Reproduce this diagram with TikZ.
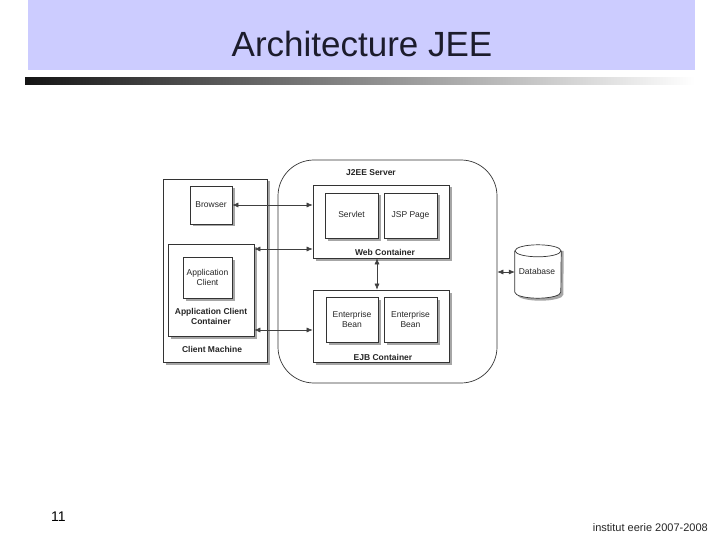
\documentclass[tikz,border=0pt]{standalone}
\usepackage{fontspec}
\setmainfont{Liberation Sans}
\usetikzlibrary{arrows.meta,shadows,calc}
\definecolor{headbg}{HTML}{CCCCFF}
\definecolor{titlecol}{HTML}{1C1C2C}
\definecolor{linecol}{HTML}{333333}
\begin{document}
\begin{tikzpicture}[x=1pt,y=-1pt,
  box/.style={draw=linecol, line width=0.7pt, fill=white, inner sep=0pt,
    drop shadow={shadow xshift=2.5pt, shadow yshift=-2.5pt, fill=black!35, opacity=1}},
  plainbox/.style={draw=linecol, line width=0.7pt, fill=white, inner sep=0pt},
  txt/.style={font=\fontsize{8.5}{10}\selectfont, align=center, inner sep=0pt, text=black!85},
  onel/.style={text height=6.2pt, text depth=1.8pt},
  btxt/.style={font=\fontsize{8.5}{10}\selectfont\bfseries, align=center, inner sep=0pt, text=black!85},
  conn/.style={draw=black!75, line width=0.6pt, {Latex[length=6pt,width=5pt]}-{Latex[length=6pt,width=5pt]}}
]
\useasboundingbox (0,0) rectangle (720,540);
\fill[white] (0,0) rectangle (720,540);
% header
\fill[headbg] (28,0) rectangle (695,70);
\shade[left color=black!92, right color=white] (25,78) rectangle (695,85);
\node[font=\fontsize{35}{40}\selectfont, text=titlecol, anchor=base, inner sep=0pt] (title) at (362,57) {Architecture JEE};

% client machine
\node[box, minimum width=104pt, minimum height=183pt] (client) at (215,270.5) {};
\node[box, minimum width=42pt, minimum height=38pt, txt, onel] (browser) at (211,205) {Browser};
\node[box, minimum width=86pt, minimum height=92pt] (acc) at (211,290) {};
\node[box, minimum width=49pt, minimum height=41pt, txt] (ac) at (207.5,277.5) {Application\\Client};
\node[btxt] (acclabel) at (211,316) {Application Client\\Container};
\node[btxt] (clientlabel) at (212,349) {Client Machine};

% server
\node[plainbox, rounded corners=36pt, minimum width=219pt, minimum height=223pt] (server) at (387.5,271.5) {};
\node[btxt] (serverlabel) at (371,173) {J2EE Server};
\node[box, minimum width=136pt, minimum height=73pt] (web) at (381,221.5) {};
\node[box, minimum width=53pt, minimum height=45pt, txt, onel] (servlet) at (351.5,215.5) {Servlet};
\node[box, minimum width=53pt, minimum height=45pt, txt, onel] (jsp) at (410.5,215.5) {JSP Page};
\node[btxt] (weblabel) at (385,252) {Web Container};
\node[box, minimum width=136pt, minimum height=72pt] (ejb) at (381,326) {};
\node[box, minimum width=52pt, minimum height=45pt, txt] (bean1) at (352,319.5) {Enterprise\\Bean};
\node[box, minimum width=53pt, minimum height=45pt, txt] (bean2) at (410.5,319.5) {Enterprise\\Bean};
\node[btxt] (ejblabel) at (383,357) {EJB Container};

% database
\node[minimum width=46pt, minimum height=53pt, inner sep=0pt] (db) at (538,271.5) {};
\fill[black!35] ($(db.north west)+(2.5,6)$) -- ($(db.south west)+(2.5,-3.5)$)
  arc[start angle=180, end angle=0, x radius=23pt, y radius=-6pt] -- ($(db.north east)+(2.5,6)$) -- cycle;
\draw[linecol, line width=0.7pt, fill=white] ($(db.north west)+(0,6)$) -- ($(db.south west)+(0,-6)$)
  arc[start angle=180, end angle=0, x radius=23pt, y radius=-6pt] -- ($(db.north east)+(0,6)$);
\draw[linecol, line width=0.7pt, fill=white] ($(db.north)+(0,6)$) ellipse[x radius=23pt, y radius=6pt];
\node[txt, onel] (dblabel) at (537,272) {Database};

% connectors
\coordinate (y2) at (0,249);
\coordinate (y3) at (0,330);
\coordinate (xv) at (377,0);
\draw[conn] (browser.east) -- (browser.east -| web.west);
\draw[conn] (acc.east |- y2) -- (web.west |- y2);
\draw[conn] (acc.east |- y3) -- (ejb.west |- y3);
\draw[conn] (web.south -| xv) -- (ejb.north -| xv);
\draw[conn] (server.east |- dblabel) -- (db.west |- dblabel);

% footer
\node[font=\fontsize{14}{16}\selectfont, anchor=base west, inner sep=0pt] (pagenum) at (51,521) {11};
\node[font=\fontsize{11}{13}\selectfont, anchor=base east, inner sep=0pt, text=black!85] (footer) at (708,531) {institut eerie 2007-2008};
\end{tikzpicture}
\end{document}
